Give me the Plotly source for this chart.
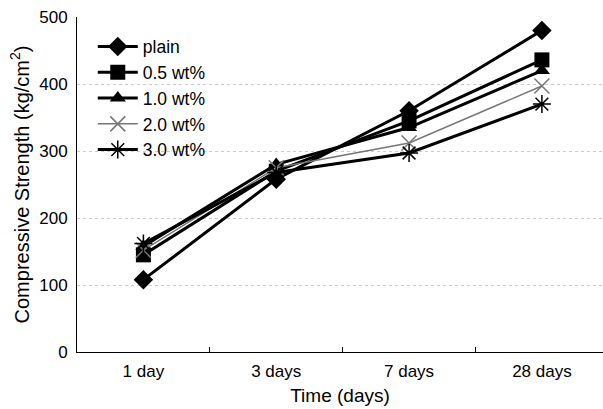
import plotly.graph_objects as go

categories = ["1 day", "3 days", "7 days", "28 days"]
series_names = ["plain", "0.5 wt%", "1.0 wt%", "2.0 wt%", "3.0 wt%"]
plain = [108, 258, 360, 480]
wt05 = [145, 270, 345, 436]
wt10 = [158, 280, 335, 420]
wt20 = [152, 275, 312, 397]
wt30 = [162, 268, 297, 370]
y_ticks = [0, 100, 200, 300, 400, 500]

values = [plain, wt05, wt10, wt20, wt30]
styles = [
    dict(symbol="diamond", size=15, color="black", lw=3),
    dict(symbol="square", size=15, color="black", lw=3),
    dict(symbol="triangle-up", size=14, color="black", lw=3),
    dict(symbol="x-thin-open", size=15, color="#777777", lw=1.5),
    dict(symbol="asterisk-open", size=15, color="black", lw=3),
]

fig = go.Figure()
for name, vals, st in zip(series_names, values, styles):
    fig.add_trace(go.Scatter(
        x=categories, y=vals, name=name, mode="lines+markers",
        line=dict(color=st["color"], width=st["lw"]),
        marker=dict(symbol=st["symbol"], size=st["size"], color=st["color"],
                    line=dict(color=st["color"], width=1.5 if "open" in st["symbol"] else 0)),
    ))

font = "Liberation Sans, Arial, sans-serif"
fig.update_layout(
    width=603, height=409,
    margin=dict(l=77, r=0, t=17, b=57),
    paper_bgcolor="white", plot_bgcolor="white",
    font=dict(family=font, size=17, color="black"),
    showlegend=True,
    legend=dict(x=0.03, y=0.965, xanchor="left", yanchor="top",
                bgcolor="rgba(255,255,255,0)", borderwidth=0,
                font=dict(size=17.5), tracegroupgap=0, itemwidth=40),
    xaxis=dict(
        type="category", range=[-0.5, 3.46],
        title=dict(text="Time (days)", font=dict(size=19), standoff=8),
        showline=True, linecolor="black", linewidth=1,
        ticks="inside", tickson="boundaries", ticklen=5, tickcolor="black",
        showgrid=False, zeroline=False, tickfont=dict(size=17),
        ticklabelstandoff=4,
    ),
    yaxis=dict(
        range=[0, 500], tickvals=y_ticks, tickfont=dict(size=17),
        title=dict(text="Compressive Strength (kg/cm<sup>2</sup>)", font=dict(size=20), standoff=4),
        showline=True, linecolor="black", linewidth=1, ticklabelstandoff=5,
        ticks="", showgrid=True, gridcolor="#cccccc", griddash="dot", gridwidth=1,
        zeroline=False,
    ),
)
fig.write_html("out.html")
